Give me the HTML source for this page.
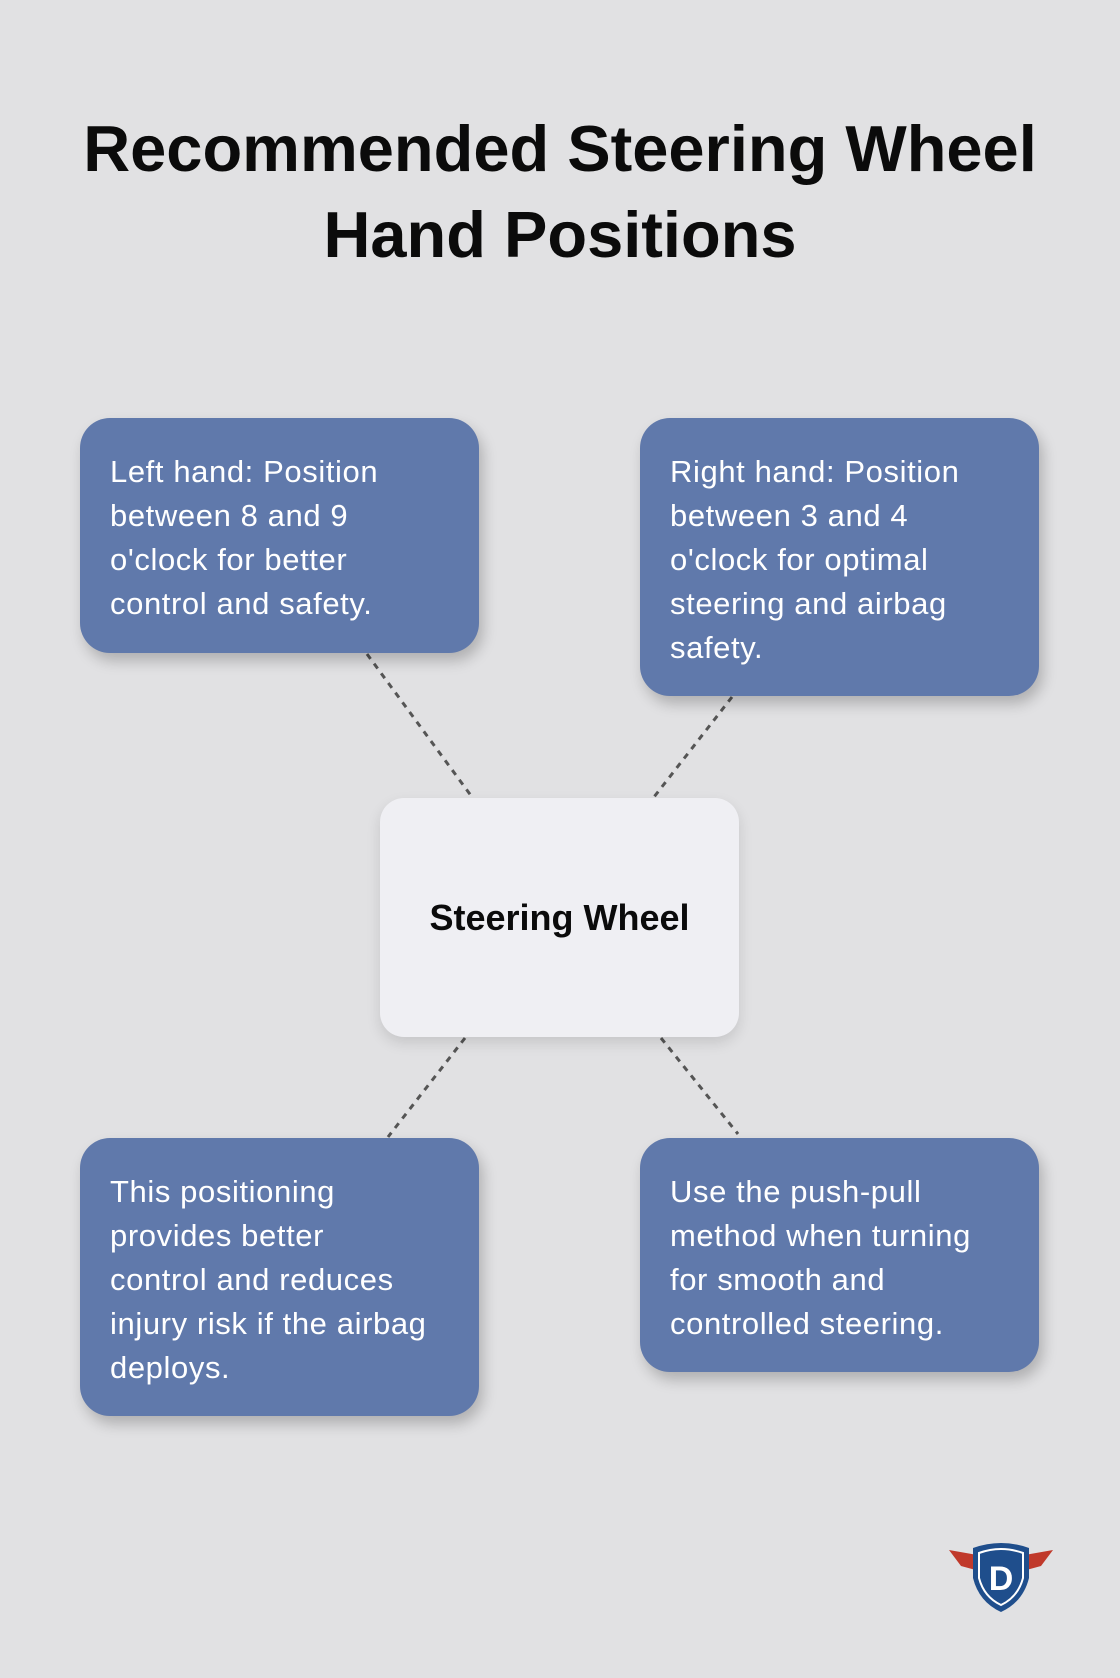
<!DOCTYPE html>
<html><head><meta charset="utf-8"><style>
html,body{margin:0;padding:0}
body{width:1120px;height:1678px;background:#e1e1e3;position:relative;overflow:hidden;font-family:"Liberation Sans",sans-serif}
h1{position:absolute;left:0;top:106px;width:1120px;margin:0;text-align:center;font-size:65px;line-height:86px;font-weight:bold;color:#0b0b0b}
.box{position:absolute;background:#6079ab;border-radius:30px;color:#fff;font-size:31px;letter-spacing:0.6px;line-height:44px;padding:32px 20px 0 30px;box-sizing:border-box;box-shadow:4px 8px 14px rgba(0,0,0,0.22);white-space:nowrap}
.center{position:absolute;left:380px;top:798px;width:359px;height:239px;background:#efeff3;border-radius:24px;display:flex;align-items:center;justify-content:center;font-weight:bold;font-size:36px;color:#0b0b0b;box-shadow:0 6px 14px rgba(0,0,0,0.12)}
svg{position:absolute;left:0;top:0}
</style></head><body>
<h1>Recommended Steering Wheel<br>Hand Positions</h1>
<svg width="1120" height="1678">
<g stroke="#555" stroke-width="3" stroke-dasharray="6,6" fill="none">
<line x1="367" y1="654" x2="472" y2="797"/>
<line x1="732" y1="697" x2="654" y2="797"/>
<line x1="465" y1="1038" x2="388" y2="1137"/>
<line x1="661" y1="1038" x2="738" y2="1134"/>
</g>
<g transform="translate(1001,1578)">
<path d="M-52,-28 L-18,-22 L-18,-6 L-40,-12 Z" fill="#c0392b"/>
<path d="M52,-28 L18,-22 L18,-6 L40,-12 Z" fill="#c0392b"/>
<path d="M-28,-30 Q0,-40 28,-30 L28,0 Q22,24 0,34 Q-22,24 -28,0 Z" fill="#1f4e8c"/>
<path d="M-22,-25 Q0,-33 22,-25 L22,0 Q17,19 0,27 Q-17,19 -22,0 Z" fill="none" stroke="#fff" stroke-width="2"/>
<text x="0" y="12" text-anchor="middle" font-family="Liberation Sans" font-weight="bold" font-size="34" fill="#fff">D</text>
</g>
</svg>
<div class="box" style="left:80px;top:418px;width:399px;height:235px">Left hand: Position<br>between 8 and 9<br>o'clock for better<br>control and safety.</div>
<div class="box" style="left:640px;top:418px;width:399px;height:278px">Right hand: Position<br>between 3 and 4<br>o'clock for optimal<br>steering and airbag<br>safety.</div>
<div class="center">Steering Wheel</div>
<div class="box" style="left:80px;top:1138px;width:399px;height:278px">This positioning<br>provides better<br>control and reduces<br>injury risk if the airbag<br>deploys.</div>
<div class="box" style="left:640px;top:1138px;width:399px;height:234px">Use the push-pull<br>method when turning<br>for smooth and<br>controlled steering.</div>
</body></html>
